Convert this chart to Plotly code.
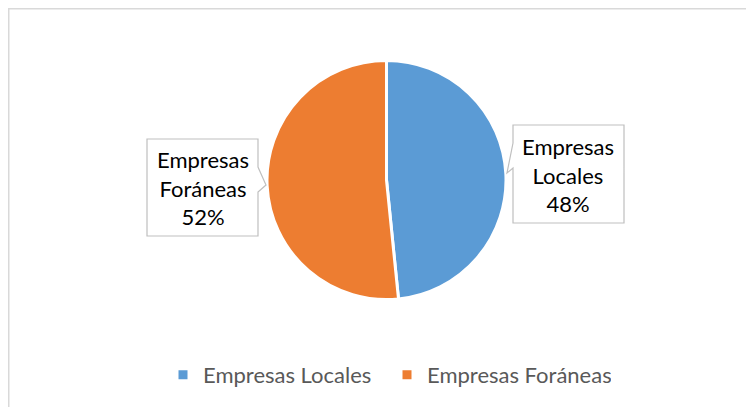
import plotly.graph_objects as go

labels = ["Empresas Locales", "Empresas Foráneas"]
values = [48.4, 51.6]
colors = ["#5B9BD5", "#ED7D31"]

W, H = 754, 407
OFF = 8  # default page body margin
FONT = "Lato"
FS = 22

def px(x):
    return (x - OFF) / W

def py(y):
    return 1 - (y - OFF) / H

def path(points):
    return "M " + " L ".join(f"{px(x):.5f},{py(y):.5f}" for x, y in points) + " Z"

cx, cy, r = 386.5, 180, 119.5

fig = go.Figure(go.Pie(
    labels=labels, values=values, sort=False, direction="clockwise", rotation=0,
    marker=dict(colors=colors, line=dict(color="white", width=3)),
    textinfo="none", hoverinfo="label+percent",
    domain=dict(x=[px(cx - r), px(cx + r)], y=[py(cy + r), py(cy - r)]),
))

shapes = [
    dict(type="rect", xref="paper", yref="paper", x0=px(OFF + 0.75), y0=py(OFF + 0.75),
         x1=px(W + 20), y1=py(H + 20),
         line=dict(color="#D9D9D9", width=1.5), fillcolor="rgba(0,0,0,0)", layer="below"),
    dict(type="path", xref="paper", yref="paper",
         path=path([(147, 139), (258, 139), (258, 167), (266, 185), (258, 192), (258, 236), (147, 236)]),
         line=dict(color="#BFBFBF", width=1.2), fillcolor="white"),
    dict(type="path", xref="paper", yref="paper",
         path=path([(513, 125), (624, 125), (624, 223), (513, 223), (513, 168), (507, 173), (513, 143)]),
         line=dict(color="#BFBFBF", width=1.2), fillcolor="white"),
]

pcts = [round(v * 100 / sum(values)) for v in values]
annotations = [
    dict(xref="paper", yref="paper", x=px(568), y=py(175), xanchor="center", yanchor="middle",
         text=labels[0].replace(" ", "<br>") + f"<br>{pcts[0]}%", showarrow=False,
         font=dict(family=FONT, size=FS, color="#000000"), align="center"),
    dict(xref="paper", yref="paper", x=px(203), y=py(188), xanchor="center", yanchor="middle",
         text=labels[1].replace(" ", "<br>") + f"<br>{pcts[1]}%", showarrow=False,
         font=dict(family=FONT, size=FS, color="#000000"), align="center"),
]

fig.update_layout(
    width=W, height=H, margin=dict(l=0, r=0, t=0, b=0),
    paper_bgcolor="white", plot_bgcolor="white",
    shapes=shapes, annotations=annotations,
    showlegend=True,
    legend=dict(orientation="h", x=px(387), xanchor="center", y=py(375), yanchor="middle",
                font=dict(family=FONT, size=FS, color="#595959"), itemwidth=30,
                entrywidth=179, entrywidthmode="pixels",
                traceorder="normal"),
)

fig.write_html("out.html")
